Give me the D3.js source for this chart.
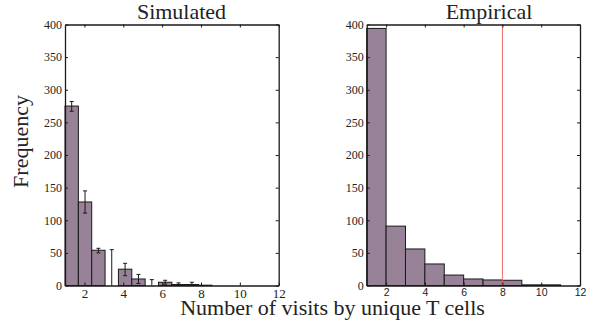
<!DOCTYPE html>
<html>
<head>
<meta charset="utf-8">
<script src="https://cdn.jsdelivr.net/npm/d3@7"></script>
<style>
  body { margin: 0; background: #fff; }
  .bar { fill: #988297; stroke: #1a1a1a; stroke-width: 1; }
  .err { stroke: #1a1a1a; stroke-width: 1; fill: none; }
  .axis path, .axis line { stroke: #1a1a1a; }
</style>
</head>
<body>
<svg width="595" height="327"></svg>
<script>
var SERIF = "'Liberation Serif', 'Times New Roman', serif";
var SANS = "'Liberation Sans', Arial, sans-serif";

// simulated histogram: 16 equal bins spanning 1..12, mean and error range
var simRange = [1, 12];
var simBinCount = 16;
var simValues = [275, 128, 54, 0, 25, 10, 0, 5, 1.5, 1.5, 0.5, 0, 0, 0, 0, 0];
var simErrLow = [267, 111, 50, 0, 15, 3, 0, 2, 0, 0, 0, 0, 0, 0, 0, 0];
var simErrHigh = [282, 145, 57, 55, 34, 17, 9, 8, 4, 5, 0, 0, 0, 0, 0, 0];

// empirical histogram: unit bins starting at 1
var empBinStarts = [1, 2, 3, 4, 5, 6, 7, 8, 9, 10, 11];
var empValues = [394, 91, 56, 33, 16, 10, 8.5, 8, 1, 1, 0];
var empMarker = 8;

var xTicks = [2, 4, 6, 8, 10, 12];
var yTicks = [0, 50, 100, 150, 200, 250, 300, 350, 400];

var svg = d3.select("svg");
var top_ = 24.5, bottom = 285.5;

var y = d3.scaleLinear().domain([0, 400]).range([bottom, top_]);

function frame(g, x, sansX) {
  // bottom axis with labels
  var ax = g.append("g").attr("class", "axis")
    .attr("transform", "translate(0," + bottom + ")")
    .call(d3.axisBottom(x).tickValues(xTicks).tickSizeInner(-3).tickSizeOuter(0).tickPadding(3));
  ax.selectAll("text")
    .style("font-family", sansX ? SANS : SERIF)
    .style("font-size", sansX ? "10.5px" : "13px");
  // top axis, ticks only
  g.append("g").attr("class", "axis")
    .attr("transform", "translate(0," + top_ + ")")
    .call(d3.axisTop(x).tickValues(xTicks).tickSizeInner(-3).tickSizeOuter(0).tickFormat(""));
  // left axis with labels
  var ay = g.append("g").attr("class", "axis")
    .attr("transform", "translate(" + x.range()[0] + ",0)")
    .call(d3.axisLeft(y).tickValues(yTicks).tickSizeInner(-3).tickSizeOuter(0).tickPadding(3));
  ay.selectAll("text").style("font-family", SERIF).style("font-size", "12px");
  // right axis, ticks only
  g.append("g").attr("class", "axis")
    .attr("transform", "translate(" + x.range()[1] + ",0)")
    .call(d3.axisRight(y).tickValues(yTicks).tickSizeInner(-3).tickSizeOuter(0).tickFormat(""));
  g.selectAll(".axis .domain").attr("stroke-width", 1.3);
  g.selectAll(".axis text").attr("fill", "#222");
}

// ---------- Simulated ----------
var xs = d3.scaleLinear().domain(simRange).range([65, 278.7]);
var binW = (simRange[1] - simRange[0]) / simBinCount;
var gs = svg.append("g");

var simData = simValues.map(function(v, i) {
  return { x0: simRange[0] + i * binW, x1: simRange[0] + (i + 1) * binW, v: v, lo: simErrLow[i], hi: simErrHigh[i] };
});

gs.selectAll(".bar").data(simData.filter(function(d) { return d.v > 0; }))
  .enter().append("rect").attr("class", "bar")
  .attr("x", function(d) { return xs(d.x0); })
  .attr("width", function(d) { return xs(d.x1) - xs(d.x0); })
  .attr("y", function(d) { return y(d.v); })
  .attr("height", function(d) { return y(0) - y(d.v); });

var errs = gs.selectAll(".errg").data(simData.filter(function(d) { return d.hi > 0; }))
  .enter().append("g");
errs.append("line").attr("class", "err")
  .attr("x1", function(d) { return xs((d.x0 + d.x1) / 2); })
  .attr("x2", function(d) { return xs((d.x0 + d.x1) / 2); })
  .attr("y1", function(d) { return y(d.lo); })
  .attr("y2", function(d) { return y(d.hi); });
errs.append("line").attr("class", "err")
  .attr("x1", function(d) { return xs((d.x0 + d.x1) / 2) - 2; })
  .attr("x2", function(d) { return xs((d.x0 + d.x1) / 2) + 2; })
  .attr("y1", function(d) { return y(d.hi); })
  .attr("y2", function(d) { return y(d.hi); });
errs.filter(function(d) { return d.lo > 0; }).append("line").attr("class", "err")
  .attr("x1", function(d) { return xs((d.x0 + d.x1) / 2) - 2; })
  .attr("x2", function(d) { return xs((d.x0 + d.x1) / 2) + 2; })
  .attr("y1", function(d) { return y(d.lo); })
  .attr("y2", function(d) { return y(d.lo); });

frame(gs, xs, false);

// ---------- Empirical ----------
var xe = d3.scaleLinear().domain([1, 12]).range([366.7, 580]);
var ge = svg.append("g");

ge.selectAll(".bar").data(empBinStarts.map(function(s, i) { return { x0: s, v: empValues[i] }; }).filter(function(d) { return d.v > 0; }))
  .enter().append("rect").attr("class", "bar")
  .attr("x", function(d) { return xe(d.x0); })
  .attr("width", function(d) { return xe(d.x0 + 1) - xe(d.x0); })
  .attr("y", function(d) { return y(d.v); })
  .attr("height", function(d) { return y(0) - y(d.v); });

ge.append("line")
  .attr("x1", xe(empMarker)).attr("x2", xe(empMarker))
  .attr("y1", y(0)).attr("y2", y(400))
  .attr("stroke", "#f26d6d").attr("stroke-width", 1);

frame(ge, xe, true);

// ---------- titles & labels ----------
function label(txt) {
  return svg.append("text").attr("text-anchor", "middle").attr("fill", "#222")
    .style("font-family", SERIF).style("font-size", "22px").text(txt);
}
label("Simulated").attr("x", 181.5).attr("y", 19);
label("Empirical").attr("x", 489).attr("y", 19);
label("Frequency").attr("transform", "translate(28,141.5) rotate(-90)");
label("Number of visits by unique T cells").attr("x", 332.5).attr("y", 315);
</script>
</body>
</html>
